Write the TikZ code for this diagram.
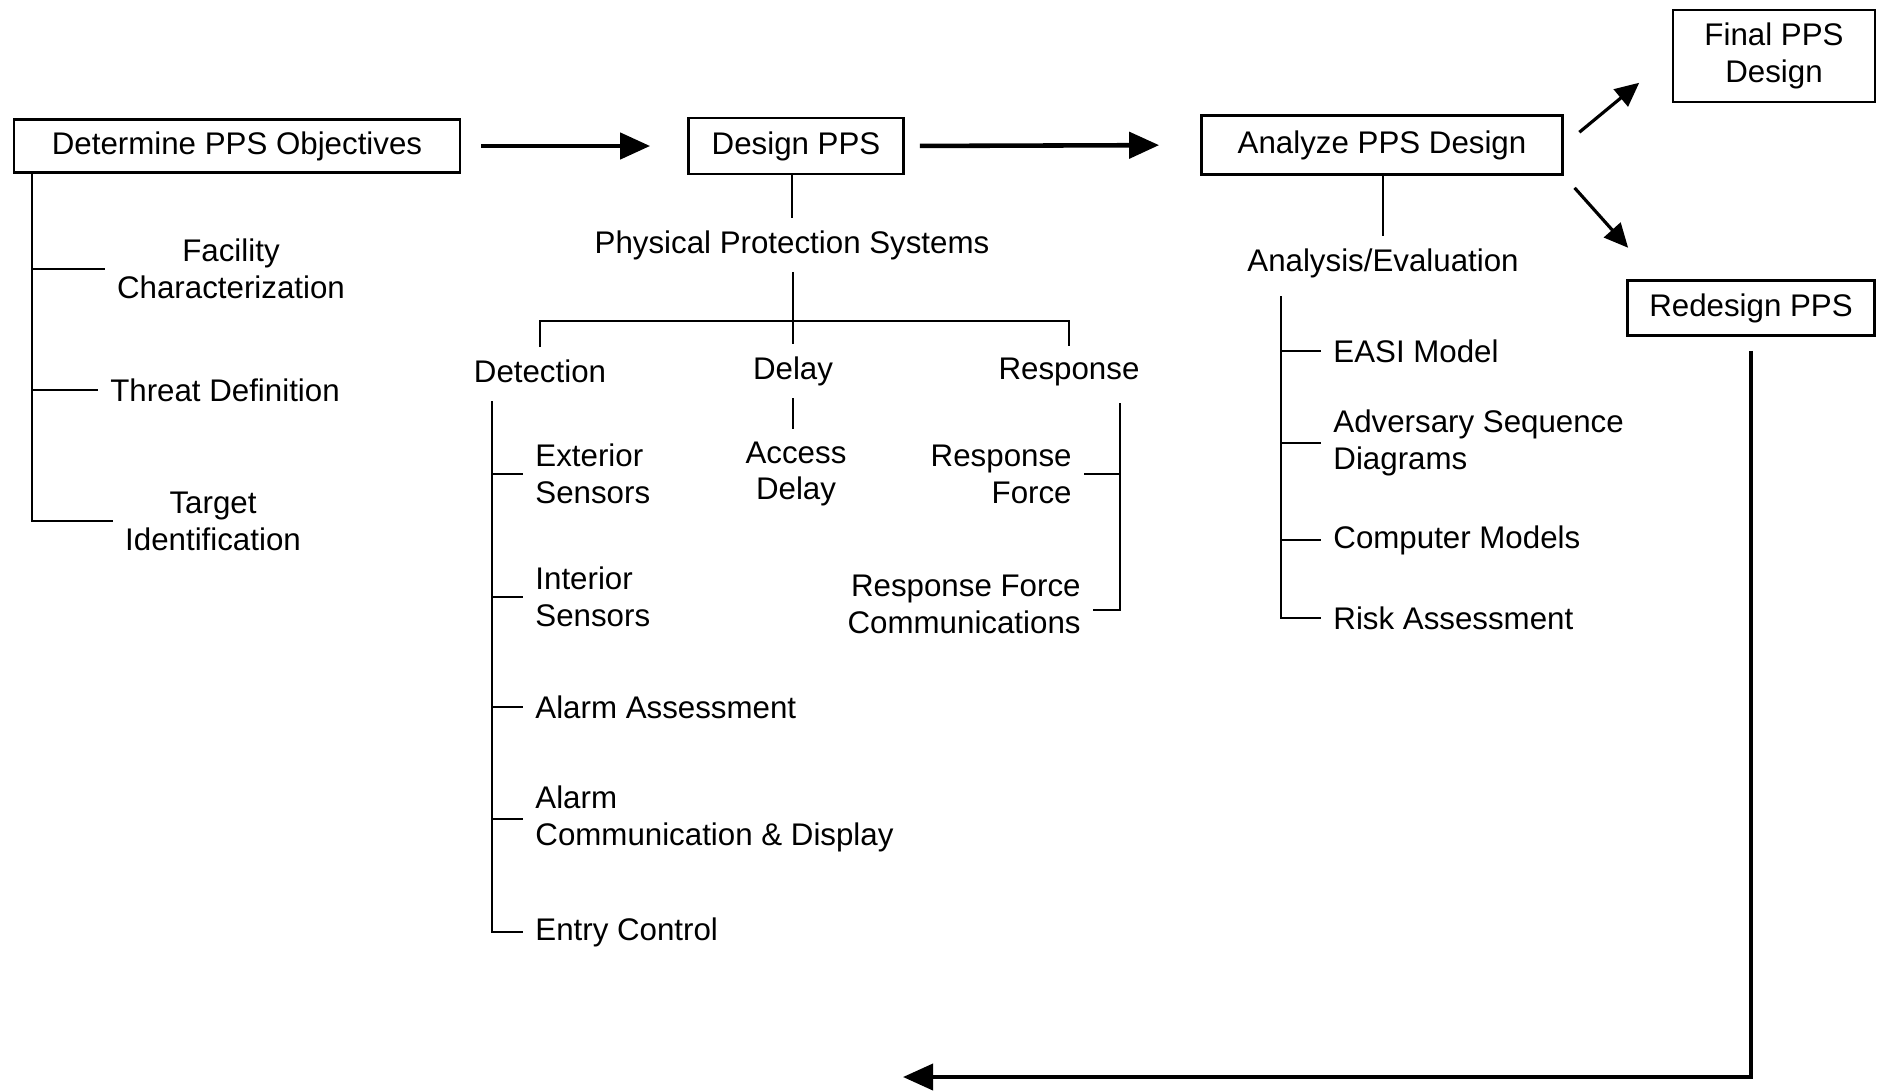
\documentclass[tikz,border=0pt]{standalone}
\usepackage{fontspec}
\setmainfont{Liberation Sans}
\usetikzlibrary{arrows.meta, positioning}

\begin{document}
\begin{tikzpicture}[font=\fontsize{8.9}{10.5}\selectfont,
    box/.style={draw, line width=0.8pt},
    branch/.style={line width=0.6pt},
    bigarrow/.style={line width=1.3pt, -{Triangle[length=3mm, width=2.6mm]}},
    smallarrow/.style={line width=0.9pt, -{Triangle[length=2.4mm, width=2.2mm]}}]

    \useasboundingbox (0,0) rectangle (18.77,-10.91);

    % Process boxes
    \node at (2.37, -1.46) [box, minimum width=4.46cm, minimum height=0.5cm] (obj) {Determine PPS Objectives};
    \node at (7.96, -1.46) [box, minimum width=2.15cm, minimum height=0.56cm] (dsg) {Design PPS};
    \node at (13.82, -1.45) [box, minimum width=3.61cm, minimum height=0.59cm] (ana) {Analyze PPS Design};
    \node at (17.74, -0.56) [box, align=center, minimum width=2.02cm, minimum height=0.92cm] (fin) {Final PPS\\Design};
    \node at (17.51, -3.08) [box, minimum width=2.47cm, minimum height=0.55cm] (red) {Redesign PPS};
    \draw[bigarrow, shorten <=0.2cm, shorten >=0.37cm] (obj.east) -- (dsg.west);
    \draw[bigarrow, shorten <=0.15cm, shorten >=0.41cm] (dsg.east) -- (ana.west);
    \draw[smallarrow, shorten <=0.2cm, shorten >=0.42cm] (ana.east) -- (fin.west);
    \draw[smallarrow, shorten <=0.16cm, shorten >=0.42cm] (ana.south east) -- ([xshift=3mm]red.north west);
    \coordinate (back) at (9.03, -10.77);
    \draw[bigarrow, line width=1.1pt, shorten <=0.14cm] (red.south) |- (back);

    % Objectives
    \node at (2.31, -2.69) [align=center] (fac) {Facility\\Characterization};
    \node at (2.25, -3.90) (thr) {Threat Definition};
    \node at (2.13, -5.21) [align=center] (tgt) {Target\\Identification};
    \coordinate (otrunk) at (0.32, -1.71);
    \draw[branch] (obj.south -| otrunk) |- (tgt.west);
    \draw[branch] (otrunk |- fac.west) -- (fac.west);
    \draw[branch] (otrunk |- thr.west) -- (thr.west);

    % Physical protection systems
    \node at (7.92, -2.45) (pps) {Physical Protection Systems};
    \node at (5.40, -3.71) (det) {Detection};
    \node at (7.93, -3.71) (dly) {Delay};
    \node at (10.69, -3.72) (rsp) {Response};
    \node at (7.96, -4.74) [align=center] (acc) {Access\\Delay};
    \coordinate (bar) at (7.93, -3.21);
    \draw[branch] (pps.north |- dsg.south) -- (pps.north);
    \draw[branch] (dly.north |- pps.south) -- (dly.north);
    \draw[branch] (det.north) |- (bar) -| (rsp.north);
    \draw[branch] (dly.south) -- (dly.south |- acc.north);

    \node at (5.23, -4.74) [anchor=west, align=left] (ext) {Exterior\\Sensors};
    \node at (5.23, -5.97) [anchor=west, align=left] (int) {Interior\\Sensors};
    \node at (5.23, -7.07) [anchor=west] (alas) {Alarm Assessment};
    \node at (5.23, -8.19) [anchor=west, align=left] (alcd) {Alarm\\Communication \& Display};
    \node at (5.23, -9.32) [anchor=west] (ent) {Entry Control};
    \coordinate (dtrunk) at (4.92, -4.01);
    \draw[branch] (dtrunk) |- (ent.west);
    \draw[branch] (dtrunk |- ext.west) -- (ext.west);
    \draw[branch] (dtrunk |- int.west) -- (int.west);
    \draw[branch] (dtrunk |- alas.west) -- (alas.west);
    \draw[branch] (dtrunk |- alcd.west) -- (alcd.west);

    \node at (10.84, -4.74) [anchor=east, align=right] (rf) {Response\\Force};
    \node at (10.93, -6.04) [anchor=east, align=right] (rfc) {Response Force\\Communications};
    \coordinate (rtrunk) at (11.20, -4.03);
    \draw[branch] (rtrunk) |- ([yshift=-0.6mm]rfc.east);
    \draw[branch] (rtrunk |- rf.east) -- (rf.east);

    % Analysis
    \node at (13.83, -2.63) (eval) {Analysis/Evaluation};
    \draw[branch] (eval.north |- ana.south) -- (eval.north);
    \node at (13.21, -3.51) [anchor=west] (easi) {EASI Model};
    \node at (13.21, -4.43) [anchor=west, align=left] (adv) {Adversary Sequence\\Diagrams};
    \node at (13.21, -5.40) [anchor=west] (comp) {Computer Models};
    \node at (13.21, -6.18) [anchor=west] (risk) {Risk Assessment};
    \coordinate (atrunk) at (12.81, -2.96);
    \draw[branch] (atrunk) |- (risk.west);
    \draw[branch] (atrunk |- easi.west) -- (easi.west);
    \draw[branch] (atrunk |- adv.west) -- (adv.west);
    \draw[branch] (atrunk |- comp.west) -- (comp.west);
\end{tikzpicture}
\end{document}
